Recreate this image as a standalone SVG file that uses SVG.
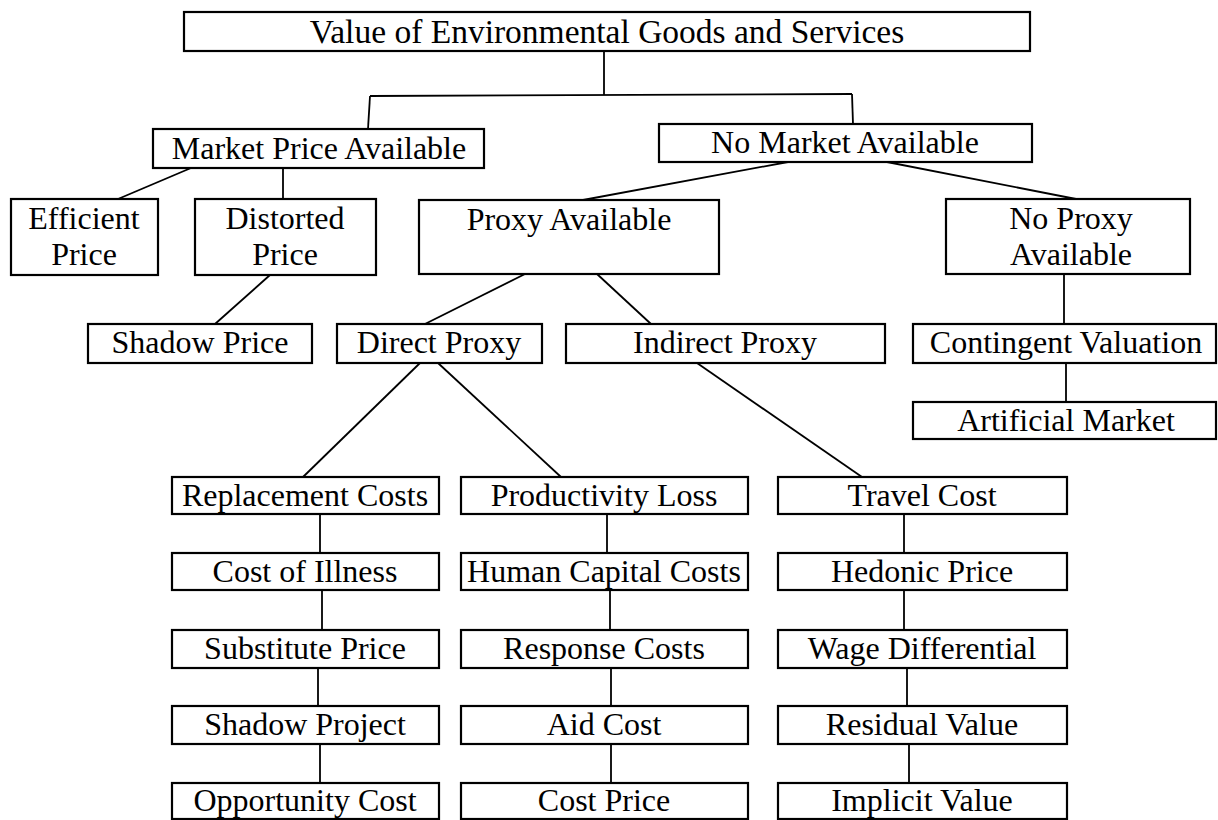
<svg xmlns="http://www.w3.org/2000/svg" width="1218" height="820" viewBox="0 0 1218 820">
<style>
rect{fill:#fff;stroke:#000;stroke-width:2.2}
text{font-family:"Liberation Serif","Times New Roman",serif;font-size:32px;fill:#000;text-anchor:middle}
#connectors line{stroke:#000;stroke-width:1.8}
</style>
<rect x="0" y="0" width="1218" height="820" style="stroke:none"/>
<g id="connectors">
<line x1="604" y1="51" x2="604" y2="95"/>
<line x1="370" y1="96" x2="852" y2="94"/>
<line x1="370" y1="96" x2="368" y2="129"/>
<line x1="852" y1="94" x2="853" y2="124"/>
<line x1="191" y1="168" x2="118" y2="199"/>
<line x1="283" y1="168" x2="283" y2="199"/>
<line x1="270" y1="275" x2="215" y2="324"/>
<line x1="788" y1="162" x2="583" y2="200"/>
<line x1="887" y1="162" x2="1076" y2="199"/>
<line x1="525" y1="274" x2="425" y2="324"/>
<line x1="597" y1="274" x2="651" y2="324"/>
<line x1="1064" y1="274" x2="1064" y2="324"/>
<line x1="1066" y1="363" x2="1066" y2="402"/>
<line x1="420" y1="363" x2="303" y2="477"/>
<line x1="438" y1="363" x2="561" y2="477"/>
<line x1="697" y1="363" x2="862" y2="477"/>
<line x1="320" y1="514" x2="320" y2="553"/>
<line x1="322" y1="590" x2="322" y2="630"/>
<line x1="318" y1="668" x2="318" y2="706"/>
<line x1="320" y1="744" x2="320" y2="783"/>
<line x1="607" y1="514" x2="607" y2="553"/>
<line x1="610" y1="590" x2="610" y2="630"/>
<line x1="611" y1="668" x2="611" y2="706"/>
<line x1="611" y1="744" x2="611" y2="783"/>
<line x1="904" y1="514" x2="904" y2="553"/>
<line x1="904" y1="590" x2="904" y2="630"/>
<line x1="907" y1="668" x2="907" y2="706"/>
<line x1="909" y1="744" x2="909" y2="783"/>
</g>
<g id="n-root"><rect x="184" y="12" width="846" height="39"/><text x="607" y="43" style="font-size:33.5px">Value of Environmental Goods and Services</text></g>
<g id="n-market"><rect x="153" y="129" width="331" height="39"/><text x="319" y="159">Market Price Available</text></g>
<g id="n-nomarket"><rect x="659" y="124" width="373" height="38"/><text x="845" y="153">No Market Available</text></g>
<g id="n-efficient"><rect x="11" y="199" width="147" height="76"/><text x="84" y="229">Efficient</text><text x="84" y="265">Price</text></g>
<g id="n-distorted"><rect x="195" y="199" width="181" height="76"/><text x="285" y="229">Distorted</text><text x="285" y="265">Price</text></g>
<g id="n-proxy"><rect x="419" y="200" width="300" height="74"/><text x="569" y="230">Proxy Available</text></g>
<g id="n-noproxy"><rect x="946" y="199" width="244" height="75"/><text x="1071" y="229">No Proxy</text><text x="1071" y="265">Available</text></g>
<g id="n-shadowprice"><rect x="88" y="324" width="224" height="39"/><text x="200" y="353">Shadow Price</text></g>
<g id="n-direct"><rect x="337" y="324" width="205" height="39"/><text x="439" y="353">Direct Proxy</text></g>
<g id="n-indirect"><rect x="566" y="324" width="319" height="39"/><text x="725" y="353">Indirect Proxy</text></g>
<g id="n-contingent"><rect x="913" y="324" width="303" height="39"/><text x="1066" y="353">Contingent Valuation</text></g>
<g id="n-artificial"><rect x="913" y="402" width="303" height="37"/><text x="1066" y="431">Artificial Market</text></g>
<g id="n-replacement"><rect x="172" y="477" width="267" height="37"/><text x="305" y="506">Replacement Costs</text></g>
<g id="n-illness"><rect x="172" y="553" width="267" height="37"/><text x="305" y="582">Cost of Illness</text></g>
<g id="n-substitute"><rect x="172" y="630" width="267" height="38"/><text x="305" y="659">Substitute Price</text></g>
<g id="n-shadowproject"><rect x="172" y="706" width="267" height="38"/><text x="305" y="735">Shadow Project</text></g>
<g id="n-opportunity"><rect x="172" y="783" width="267" height="36"/><text x="305" y="811">Opportunity Cost</text></g>
<g id="n-productivity"><rect x="461" y="477" width="287" height="37"/><text x="604" y="506">Productivity Loss</text></g>
<g id="n-humancapital"><rect x="461" y="553" width="287" height="37"/><text x="604" y="582">Human Capital Costs</text></g>
<g id="n-response"><rect x="461" y="630" width="287" height="38"/><text x="604" y="659">Response Costs</text></g>
<g id="n-aid"><rect x="461" y="706" width="287" height="38"/><text x="604" y="735">Aid Cost</text></g>
<g id="n-costprice"><rect x="461" y="783" width="287" height="36"/><text x="604" y="811">Cost Price</text></g>
<g id="n-travel"><rect x="778" y="477" width="289" height="37"/><text x="922" y="506">Travel Cost</text></g>
<g id="n-hedonic"><rect x="778" y="553" width="289" height="37"/><text x="922" y="582">Hedonic Price</text></g>
<g id="n-wage"><rect x="778" y="630" width="289" height="38"/><text x="922" y="659">Wage Differential</text></g>
<g id="n-residual"><rect x="778" y="706" width="289" height="38"/><text x="922" y="735">Residual Value</text></g>
<g id="n-implicit"><rect x="778" y="783" width="289" height="36"/><text x="922" y="811">Implicit Value</text></g>
</svg>
